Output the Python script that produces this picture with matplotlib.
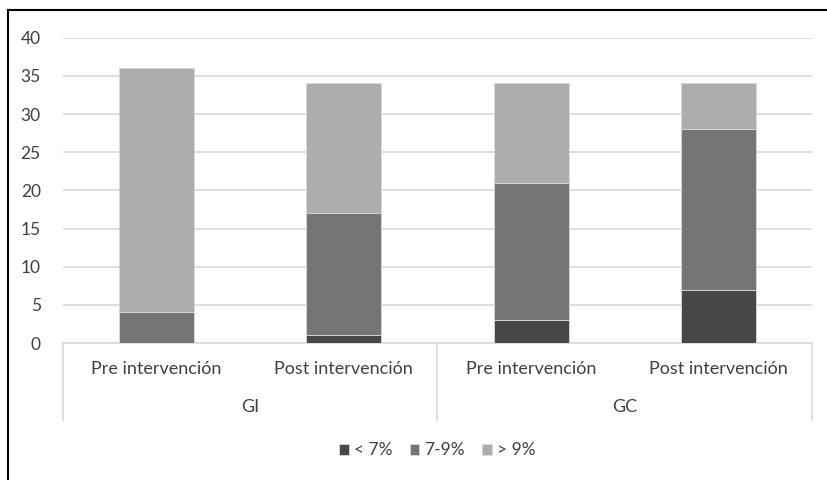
import numpy as np
import matplotlib.pyplot as plt
from matplotlib.lines import Line2D

plt.rcParams['font.family'] = ['Lato', 'DejaVu Sans']

# ------------------------------------------------------------------------------
# data
categories = ['Pre intervención', 'Post intervención', 'Pre intervención', 'Post intervención']
groups = ['GI', 'GC']
series = ['< 7%', '7-9%', '> 9%']
low = [0, 1, 3, 7]
mid = [4, 16, 18, 21]
high = [32, 17, 13, 6]
colors = ['#474747', '#757575', '#adadad']

fig = plt.figure(figsize=(8.28, 4.8), dpi=100)
ax = fig.add_axes([63/828, 1 - 343/480, (812 - 63)/828, (343 - 37.7)/480])

x = np.arange(len(categories))
bottom = np.zeros(len(categories))
for vals, c, lab in zip([low, mid, high], colors, series):
    ax.bar(x, vals, width=0.4, bottom=bottom, color=c, label=lab,
           edgecolor='#d9d9d9', linewidth=0.6, zorder=3)
    bottom += np.array(vals)

ax.set_xlim(-0.5, len(categories) - 0.5)
ax.set_ylim(0, 40)
ax.set_yticks(range(0, 41, 5))
ax.yaxis.grid(True, color='#d9d9d9', linewidth=1.2, zorder=0)
for s in ['top', 'right', 'left']:
    ax.spines[s].set_visible(False)
ax.spines['bottom'].set_color('#d9d9d9')
ax.spines['bottom'].set_linewidth(1.2)
ax.tick_params(axis='y', length=0, pad=16, labelsize=12.5, labelcolor='#404040')
ax.set_xticks(x)
ax.set_xticklabels(categories)
ax.tick_params(axis='x', length=0, pad=13, labelsize=13, labelcolor='#404040')

# group labels and dividers
tr = ax.get_xaxis_transform()
for xd in [-0.5, 1.5, 3.5]:
    ax.plot([xd, xd], [0, -0.252], transform=tr, color='#d9d9d9',
            linewidth=1.2, clip_on=False)
for i, g in enumerate(groups):
    ax.text(2 * i + 0.5, -0.21, g, transform=tr, ha='center', va='center',
            fontsize=13, color='#404040')

ax.legend(loc='center', bbox_to_anchor=(0.5, -0.352), ncol=3, frameon=False,
          fontsize=12.5, handlelength=0.55, handleheight=0.55, handletextpad=0.3,
          columnspacing=1.0, labelcolor='#404040')

# outer frame (top and left edges only visible)
fig.add_artist(Line2D([8/828, 8/828], [0, 1 - 10/480], color='black', linewidth=1.5))
fig.add_artist(Line2D([8/828, 1], [1 - 10/480, 1 - 10/480], color='black', linewidth=1.5))

fig.savefig('out.png', dpi=100)
